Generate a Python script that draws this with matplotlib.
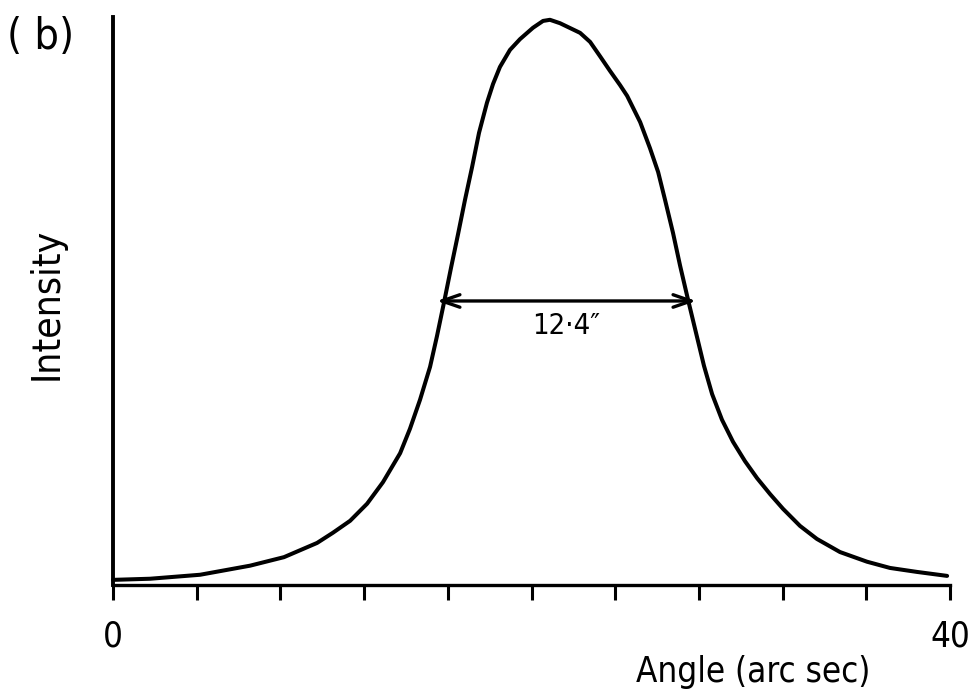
import matplotlib
matplotlib.use("Agg")
import matplotlib.pyplot as plt
import numpy as np

# rocking curve, angle in arc sec, intensity in % of peak
angle = [0.00, 1.77, 4.16, 6.55, 8.17, 9.75, 10.51, 11.33, 12.14, 12.90,
         13.72, 14.19, 14.67, 15.15, 15.48, 15.82, 16.15, 16.49, 16.82, 17.16,
         17.49, 17.87, 18.16, 18.49, 18.97, 19.45, 20.07, 20.55, 20.88, 21.36,
         22.32, 22.80, 23.27, 23.75, 24.23, 24.57, 25.19, 25.66, 26.05, 26.38,
         26.76, 27.10, 27.48, 27.86, 28.24, 28.63, 29.10, 29.63, 30.20, 30.78,
         31.40, 32.02, 32.83, 33.64, 34.74, 36.03, 37.13, 38.42, 39.86]
intensity = [0.9, 1.1, 1.8, 3.4, 4.9, 7.4, 9.2, 11.3, 14.3, 18.1,
             23.2, 27.5, 32.6, 38.4, 43.8, 49.8, 55.8, 61.8, 67.8, 73.6,
             79.6, 84.9, 88.2, 91.2, 94.2, 96.1, 98.1, 99.3, 99.5, 98.9,
             97.2, 95.6, 93.1, 90.5, 88.0, 86.1, 81.5, 76.9, 72.7, 67.8,
             62.0, 56.2, 50.2, 44.4, 38.6, 33.6, 29.1, 25.2, 21.8, 18.8,
             16.0, 13.4, 10.4, 8.1, 5.8, 4.1, 3.0, 2.3, 1.6]

fwhm = 12.4          # arc sec
half_level = 50.0
centre = 21.67
xticks = np.arange(0, 41, 4)
xticklabels = ["0"] + [""] * 9 + ["40"]

font = dict(family="DejaVu Sans", stretch="condensed")

fig = plt.figure(figsize=(9.72, 6.95), dpi=100)
ax = fig.add_axes([0.1163, 0.1583, 0.8611, 0.8173])

ax.plot(angle, intensity, color="black", lw=2.9, solid_joinstyle="round",
        solid_capstyle="round", clip_on=False)

# width at half maximum
ax.annotate("", xy=(centre - fwhm / 2, half_level), xytext=(centre + fwhm / 2, half_level),
            arrowprops=dict(arrowstyle="<->,head_length=1.3,head_width=0.45",
                            color="black", lw=2.4, shrinkA=0, shrinkB=0))
ax.text(centre, half_level - 2.0, "12\u00b74\u2033", ha="center", va="top",
        fontsize=21, **font)

ax.set_xlim(0, 40)
ax.set_ylim(0, 100)
for s in ["top", "right"]:
    ax.spines[s].set_visible(False)
ax.spines["left"].set_linewidth(2.8)
ax.spines["bottom"].set_linewidth(2.4)

ax.set_xticks(xticks)
ax.set_xticklabels(xticklabels, fontsize=25, **font)
ax.tick_params(axis="x", direction="out", length=11, width=2.2, pad=14)
ax.set_yticks([])

fig.text(0.0484, 0.5626, "Intensity", rotation=90, ha="center", va="center",
         fontsize=28, **font)
fig.text(0.775, 0.0187, "Angle (arc sec)", ha="center", va="baseline",
         fontsize=25, **font)
fig.text(0.042, 0.947, "( b)", ha="center", va="center", fontsize=31, **font)

fig.savefig("out.png", dpi=100)
